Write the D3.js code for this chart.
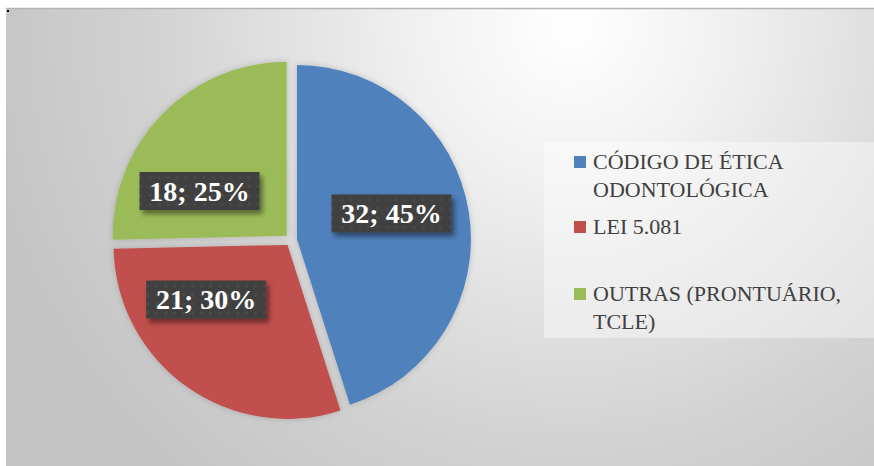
<!DOCTYPE html>
<html>
<head>
<meta charset="utf-8">
<script src="https://cdn.jsdelivr.net/npm/d3@7"></script>
<style>
  body { margin: 0; background: #fff; }
  svg { display: block; }
</style>
</head>
<body>
<div id="chart"></div>
<script>

// chart data
let categories = ["CÓDIGO DE ÉTICA ODONTOLÓGICA", "LEI 5.081", "OUTRAS (PRONTUÁRIO, TCLE)"];
let values = [32, 21, 18];
let percents = ["45%", "30%", "25%"];
let legendLines = [["CÓDIGO DE ÉTICA", "ODONTOLÓGICA"], ["LEI 5.081"], ["OUTRAS (PRONTUÁRIO,", "TCLE)"]];
let colors = ["#4f81bd", "#c0504d", "#9bbb59"];

let width = 874, height = 466;

let svg = d3.select("#chart").append("svg")
    .attr("width", width)
    .attr("height", height);

let defs = svg.append("defs");

// background gradient
let bg = defs.append("radialGradient")
    .attr("id", "bgGrad")
    .attr("gradientUnits", "userSpaceOnUse")
    .attr("cx", 570).attr("cy", 25).attr("r", 600);
bg.append("stop").attr("offset", "0").attr("stop-color", "#ffffff");
bg.append("stop").attr("offset", "0.25").attr("stop-color", "#f1f1f1");
bg.append("stop").attr("offset", "0.7").attr("stop-color", "#d2d2d2");
bg.append("stop").attr("offset", "1").attr("stop-color", "#c4c4c4");

// soft shadow for slices and labels
let sh = defs.append("filter").attr("id", "shadow")
    .attr("x", "-20%").attr("y", "-20%").attr("width", "140%").attr("height", "140%");
sh.append("feDropShadow").attr("dx", 0).attr("dy", 0).attr("stdDeviation", 3)
    .attr("flood-color", "#000").attr("flood-opacity", 0.18);

let shBox = defs.append("filter").attr("id", "boxShadow")
    .attr("x", "-20%").attr("y", "-30%").attr("width", "150%").attr("height", "170%");
shBox.append("feDropShadow").attr("dx", 3).attr("dy", 4).attr("stdDeviation", 2.5)
    .attr("flood-color", "#000").attr("flood-opacity", 0.45);

// dotted texture of the label boxes
let pat = defs.append("pattern").attr("id", "dots")
    .attr("patternUnits", "userSpaceOnUse").attr("width", 9).attr("height", 9);
pat.append("rect").attr("width", 9).attr("height", 9).attr("fill", "#404040");
pat.append("circle").attr("cx", 4.5).attr("cy", 4.5).attr("r", 1.3).attr("fill", "#4e4e4e");

// chart area
svg.append("rect")
    .attr("x", 6).attr("y", 8)
    .attr("width", width - 6).attr("height", height - 8)
    .attr("fill", "url(#bgGrad)");
svg.append("line")
    .attr("x1", 6).attr("x2", width).attr("y1", 8.5).attr("y2", 8.5)
    .attr("stroke", "#b4b4b4").attr("stroke-width", 1.5);
svg.append("rect").attr("x", 7).attr("y", 10).attr("width", 2).attr("height", 2).attr("fill", "#000");

// pie
let cx = 291, cy = 240, radius = 174, explode = 6;

let pie = d3.pie().sort(null).value(d => d);
let arc = d3.arc().innerRadius(0).outerRadius(radius);
let arcs = pie(values);

let pieG = svg.append("g")
    .attr("transform", "translate(" + cx + "," + cy + ")");

pieG.selectAll(".slice")
    .data(arcs)
    .enter().append("path")
    .attr("class", "slice")
    .attr("d", arc)
    .attr("fill", (d, i) => colors[i])
    .attr("filter", "url(#shadow)")
    .attr("transform", function(d) {
        let a = (d.startAngle + d.endAngle) / 2;
        return "translate(" + (Math.sin(a) * explode) + "," + (-Math.cos(a) * explode) + ")";
    });

// data labels (Excel "best fit" pushes them off the bisector a bit)
let labelR = 98;
let labelShift = [-0.11, 0.36, -0.30];   // radians
let labels = pieG.selectAll(".lbl")
    .data(arcs)
    .enter().append("g")
    .attr("class", "lbl")
    .attr("transform", function(d, i) {
        let a = (d.startAngle + d.endAngle) / 2;
        let ox = Math.sin(a) * explode, oy = -Math.cos(a) * explode;
        let la = a + labelShift[i];
        return "translate(" + (ox + Math.sin(la) * labelR) + "," + (oy - Math.cos(la) * labelR) + ")";
    });

labels.append("rect")
    .attr("x", -60).attr("y", -19)
    .attr("width", 120).attr("height", 38)
    .attr("fill", "url(#dots)")
    .attr("filter", "url(#boxShadow)");

labels.append("text")
    .attr("text-anchor", "middle")
    .attr("dy", "0.35em")
    .attr("fill", "#fff")
    .style("font-family", "'Liberation Serif', serif")
    .style("font-weight", "bold")
    .style("font-size", "28px")
    .text((d, i) => values[i] + "; " + percents[i]);

// legend
let legendG = svg.append("g");
legendG.append("rect")
    .attr("x", 544).attr("y", 142)
    .attr("width", width - 544).attr("height", 196)
    .attr("fill", "#ffffff").attr("fill-opacity", 0.4);

let lineH = 27.5;
let rowY = [169, 234, 301];

let items = legendG.selectAll(".item")
    .data(categories)
    .enter().append("g")
    .attr("class", "item")
    .attr("transform", (d, i) => "translate(574," + rowY[i] + ")");

items.append("rect")
    .attr("x", 0).attr("y", -13)
    .attr("width", 12).attr("height", 12)
    .attr("fill", (d, i) => colors[i]);

items.append("text")
    .attr("x", 19)
    .attr("fill", "#404040")
    .style("font-family", "'Liberation Serif', serif")
    .style("font-size", "22px")
    .selectAll("tspan")
    .data((d, i) => legendLines[i])
    .enter().append("tspan")
    .attr("x", 19)
    .attr("y", (d, j) => j * lineH)
    .text(d => d);

</script>
</body>
</html>
